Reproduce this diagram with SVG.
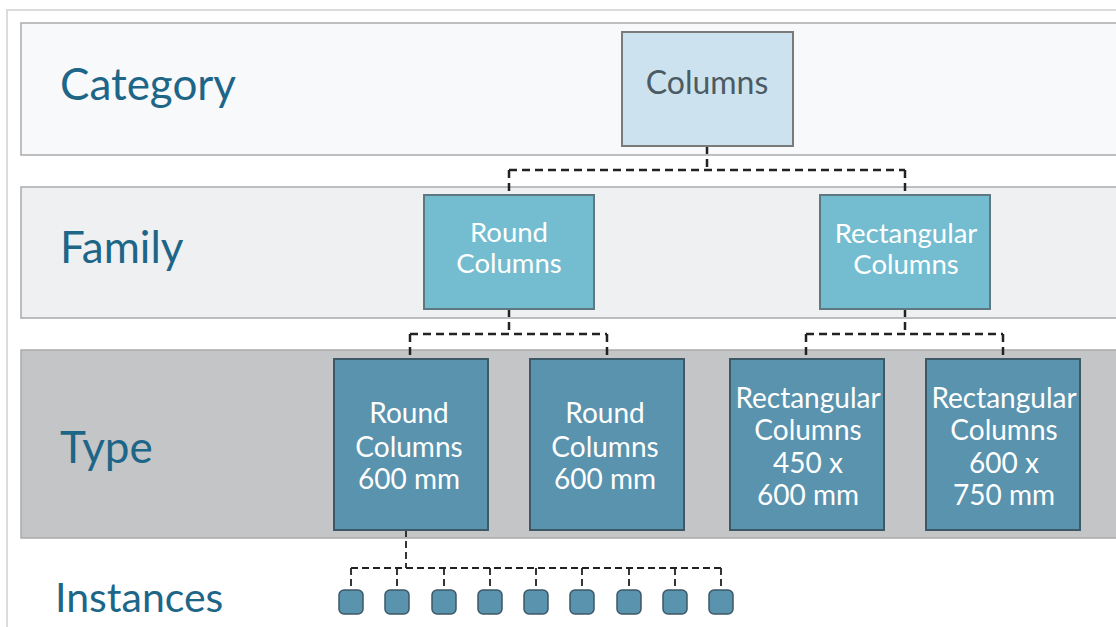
<svg xmlns="http://www.w3.org/2000/svg" width="1116" height="627" viewBox="0 0 1116 627">
  <style>
    .frame { fill: none; stroke: #dcdcdc; stroke-width: 2; }
    .band { stroke: #a9aaac; stroke-width: 1.5; }
    .label { font-family: Lato, "Liberation Sans", sans-serif; font-size: 44px; fill: #1e6688; }
    .cat { fill: #cde2ef; stroke: #7a7a7a; stroke-width: 2; }
    .fam { fill: #74bdd0; stroke: #5e7882; stroke-width: 2; }
    .typ { fill: #5a93ae; stroke: #3d5866; stroke-width: 2; }
    .inst { fill: #5a93ae; stroke: #3d5866; stroke-width: 1.5; }
    .t-dark { font-family: Lato, "Liberation Sans", sans-serif; font-size: 32px; fill: #4b5b63; text-anchor: middle; }
    .t-fam { font-family: Lato, "Liberation Sans", sans-serif; font-size: 27.5px; fill: #ffffff; text-anchor: middle; }
    .t-typ { font-family: Lato, "Liberation Sans", sans-serif; font-size: 28px; fill: #ffffff; text-anchor: middle; }
    .conn { fill: none; stroke: #222; stroke-width: 2.5; stroke-dasharray: 8 5; }
  </style>

  <rect width="1116" height="627" fill="#ffffff"/>
  <!-- outer frame -->
  <path class="frame" d="M7,627 V10 H1116"/>

  <!-- level bands -->
  <g id="bands">
    <rect class="band" x="21" y="23" width="1110" height="132" fill="#f8f9fa"/>
    <rect class="band" x="21" y="187" width="1110" height="131" fill="#eff0f2"/>
    <rect class="band" x="21" y="350" width="1110" height="188" fill="#c4c5c7"/>
  </g>

  <!-- level labels -->
  <g id="labels">
    <text class="label" x="60" y="100">Category</text>
    <text class="label" x="60" y="263">Family</text>
    <text class="label" x="60" y="463">Type</text>
    <text class="label" x="55" y="612" style="font-size:41px">Instances</text>
  </g>

  <!-- connectors -->
  <g id="connectors">
    <path class="conn" d="M707,146 V170 M509,170 H905 M509,170 V195 M905,170 V195"/>
    <path class="conn" d="M509,309 V334 M410,334 H607 M410,334 V359 M607,334 V359"/>
    <path class="conn" d="M905,309 V334 M806,334 H1003 M806,334 V359 M1003,334 V359"/>
    <path class="conn" d="M406,530 V568 M351,568 H721 M351,568 V591 M397,568 V591 M444,568 V591 M490,568 V591 M536,568 V591 M582,568 V591 M629,568 V591 M675,568 V591 M721,568 V591" style="stroke-width:1.8;stroke-dasharray:7 4"/>
  </g>

  <!-- category -->
  <g id="node-columns">
    <rect class="cat" x="622" y="32" width="171" height="114"/>
    <text class="t-dark" x="707" y="94">Columns</text>
  </g>

  <!-- families -->
  <g id="node-round-family">
    <rect class="fam" x="424" y="195" width="170" height="114"/>
    <text class="t-fam" x="509" y="242">Round</text>
    <text class="t-fam" x="509" y="273">Columns</text>
  </g>
  <g id="node-rect-family">
    <rect class="fam" x="820" y="195" width="170" height="114"/>
    <text class="t-fam" x="906" y="243">Rectangular</text>
    <text class="t-fam" x="906" y="274">Columns</text>
  </g>

  <!-- types -->
  <g id="node-round-600-a">
    <rect class="typ" x="334" y="359" width="154" height="171"/>
    <text class="t-typ" x="409" y="423">Round</text>
    <text class="t-typ" x="409" y="457">Columns</text>
    <text class="t-typ" x="409" y="489">600 mm</text>
  </g>
  <g id="node-round-600-b">
    <rect class="typ" x="530" y="359" width="154" height="171"/>
    <text class="t-typ" x="605" y="423">Round</text>
    <text class="t-typ" x="605" y="457">Columns</text>
    <text class="t-typ" x="605" y="489">600 mm</text>
  </g>
  <g id="node-rect-450x600">
    <rect class="typ" x="730" y="359" width="154" height="171"/>
    <text class="t-typ" x="808" y="408">Rectangular</text>
    <text class="t-typ" x="808" y="440">Columns</text>
    <text class="t-typ" x="808" y="473">450 x</text>
    <text class="t-typ" x="808" y="505">600 mm</text>
  </g>
  <g id="node-rect-600x750">
    <rect class="typ" x="926" y="359" width="154" height="171"/>
    <text class="t-typ" x="1004" y="408">Rectangular</text>
    <text class="t-typ" x="1004" y="440">Columns</text>
    <text class="t-typ" x="1004" y="473">600 x</text>
    <text class="t-typ" x="1004" y="505">750 mm</text>
  </g>

  <!-- instances -->
  <g id="instances">
    <rect class="inst" x="339" y="590" width="24" height="24" rx="5"/>
    <rect class="inst" x="385" y="590" width="24" height="24" rx="5"/>
    <rect class="inst" x="432" y="590" width="24" height="24" rx="5"/>
    <rect class="inst" x="478" y="590" width="24" height="24" rx="5"/>
    <rect class="inst" x="524" y="590" width="24" height="24" rx="5"/>
    <rect class="inst" x="570" y="590" width="24" height="24" rx="5"/>
    <rect class="inst" x="617" y="590" width="24" height="24" rx="5"/>
    <rect class="inst" x="663" y="590" width="24" height="24" rx="5"/>
    <rect class="inst" x="709" y="590" width="24" height="24" rx="5"/>
  </g>
</svg>
